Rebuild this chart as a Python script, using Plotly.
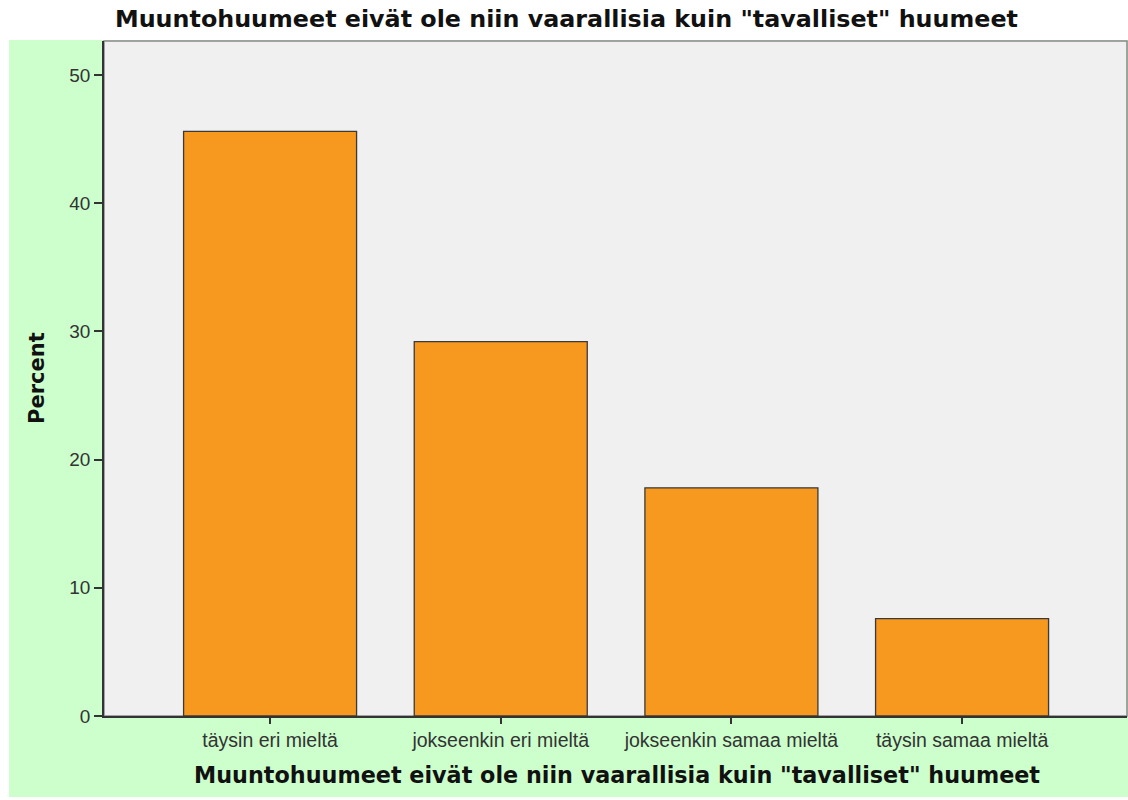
import plotly.graph_objects as go

categories = ["täysin eri mieltä", "jokseenkin eri mieltä", "jokseenkin samaa mieltä", "täysin samaa mieltä"]
percent = [45.6, 29.2, 17.8, 7.6]
y_ticks = [0, 10, 20, 30, 40, 50]
title_text = 'Muuntohuumeet eivät ole niin vaarallisia kuin "tavalliset" huumeet'

W, H = 1128, 800
# plot area in page pixels
PL, PR, PT, PB = 104, 1127, 41, 716
L, R, T, B = PL, W - PR, PT, H - PB
PW, PH = W - L - R, H - T - B


def px(xp):
    return (xp - L) / PW


def py(yp):
    return 1 - (yp - T) / PH


FONT = "Liberation Sans, Arial, sans-serif"
BOLD = "DejaVu Sans, Verdana, sans-serif"

fig = go.Figure(go.Bar(
    x=list(range(len(categories))),
    y=percent,
    width=0.75,
    marker=dict(color="#f7981f", line=dict(color="#3a3a3a", width=1.3)),
    hoverinfo="y",
))

fig.update_layout(
    width=W, height=H,
    margin=dict(l=L, r=R, t=T, b=B, pad=0),
    paper_bgcolor="white",
    plot_bgcolor="rgba(0,0,0,0)",
    showlegend=False,
    font=dict(family=FONT, color="#333333"),
    xaxis=dict(
        range=[-0.72, 3.715],
        tickmode="array",
        tickvals=list(range(len(categories))),
        ticktext=categories,
        ticks="outside", ticklen=6, tickwidth=1.5, tickcolor="#333333",
        tickfont=dict(size=19.5, color="#333333", family=FONT),
        showgrid=False, zeroline=False,
        showline=True, linecolor="#333333", linewidth=1.8,
        fixedrange=True,
    ),
    yaxis=dict(
        range=[0, 52.65],
        tickmode="array",
        tickvals=y_ticks,
        ticks="outside", ticklen=8, tickwidth=1.5, tickcolor="#333333",
        tickfont=dict(size=19, color="#333333", family=FONT),
        showgrid=False, zeroline=False,
        showline=True, linecolor="#333333", linewidth=1.8,
        fixedrange=True,
    ),
    shapes=[
        dict(type="rect", xref="paper", yref="paper", layer="below",
             x0=px(9), x1=px(1130), y0=py(797), y1=py(40),
             fillcolor="#ccffcc", line=dict(width=0)),
        dict(type="rect", xref="paper", yref="paper", layer="below",
             x0=0, x1=1, y0=0, y1=1,
             fillcolor="#f0f0f0", line=dict(color="#888888", width=1.5)),
    ],
    annotations=[
        dict(text="<b>" + title_text + "</b>", xref="paper", yref="paper",
             x=px(113), y=py(19),
             xanchor="left", yanchor="middle", showarrow=False,
             font=dict(size=23.8, color="#111111", family=BOLD)),
        dict(text="<b>" + title_text + "</b>", xref="paper", yref="paper",
             x=px(617), y=py(775),
             xanchor="center", yanchor="middle", showarrow=False,
             font=dict(size=22.3, color="#111111", family=BOLD)),
        dict(text="<b>Percent</b>", xref="paper", yref="paper",
             x=px(37), y=py(378),
             xanchor="center", yanchor="middle", showarrow=False, textangle=-90,
             font=dict(size=21, color="#111111", family=BOLD)),
    ],
)

fig.write_html("out.html", config={"displayModeBar": False},
               post_script="document.body.style.margin='0';")
